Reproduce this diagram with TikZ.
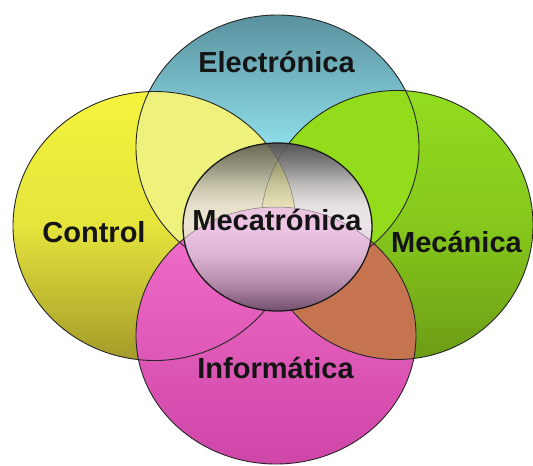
\documentclass[tikz,border=0pt]{standalone}
\usepackage{fontspec}
\newfontfamily\labfont{Liberation Sans}
\definecolor{topA}{HTML}{5A919E}
\definecolor{topB}{HTML}{8EDFEA}
\definecolor{topC}{HTML}{A8F4FA}
\definecolor{leftA}{HTML}{F4F43E}
\definecolor{leftB}{HTML}{E4E43C}
\definecolor{leftC}{HTML}{A49A2A}
\definecolor{lefttop}{HTML}{EEF27C}
\definecolor{rightA}{HTML}{92DC20}
\definecolor{rightB}{HTML}{86C81C}
\definecolor{rightC}{HTML}{6C9C16}
\definecolor{righttop}{HTML}{92DC1C}
\definecolor{botA}{HTML}{F470CA}
\definecolor{botC}{HTML}{CE46A8}
\definecolor{botright}{HTML}{C6734F}
\definecolor{mc0}{HTML}{3E3A40}
\definecolor{mc1}{HTML}{968C94}
\definecolor{mc2}{HTML}{D6CAD2}
\definecolor{mc3}{HTML}{EEE4EC}
\definecolor{mc4}{HTML}{E6E2E2}
\definecolor{mc5}{HTML}{C0BEBC}
\definecolor{mc6}{HTML}{868484}
\definecolor{mc7}{HTML}{555557}
\definecolor{pinktint}{HTML}{F080D8}
\definecolor{yellowtint}{HTML}{E8E040}
\pgfdeclareverticalshading{mecashade}{100bp}{color(0bp)=(mc0); color(25bp)=(mc0); color(32.7bp)=(mc1); color(41.7bp)=(mc2); color(50.6bp)=(mc3); color(56.5bp)=(mc4); color(62.5bp)=(mc5); color(68.5bp)=(mc6); color(75bp)=(mc7); color(100bp)=(mc7)}
\begin{document}
\begin{tikzpicture}[x=1pt,y=-1pt,
  outl/.style={draw=black!85, line width=0.9pt},
  inl/.style={draw=black!75, line width=0.5pt, opacity=0.6},
  lab/.style={font=\labfont\bfseries\fontsize{29}{34}\selectfont, text=black!92, inner sep=0pt, anchor=base}]
\def\Etop{(277.5,147) ellipse [x radius=141.5pt, y radius=132pt]}
\def\Eleft{(154.5,226) ellipse [x radius=141.5pt, y radius=134.5pt]}
\def\Eright{(397,225) ellipse [x radius=136pt, y radius=134.5pt]}
\def\Ebot{(276,335.5) ellipse [x radius=140pt, y radius=128.5pt]}
\def\Ecen{(277.5,227) ellipse [x radius=94.5pt, y radius=84pt]}
\useasboundingbox (0,0) rectangle (533,466);
\fill[white] (0,0) rectangle (533,466);
% big circles
\shade[top color=topA, bottom color=topC, middle color=topB] \Etop;
\shade[top color=leftA, bottom color=leftC, middle color=leftB] \Eleft;
\begin{scope}
  \clip \Eleft;
  \fill[lefttop] \Etop;
\end{scope}
\shade[top color=rightA, bottom color=rightC, middle color=rightB] \Eright;
\begin{scope}
  \clip \Eright;
  \fill[righttop] \Etop;
\end{scope}
\shade[top color=botA, bottom color=botC] \Ebot;
\begin{scope}
  \clip \Ebot;
  \fill[botright] \Eright;
\end{scope}
\draw[outl] \Etop;
\draw[outl] \Eleft;
\draw[outl] \Eright;
\draw[outl] \Ebot;
% centre
\shade[shading=mecashade] \Ecen;
\begin{scope}
  \clip \Ecen;
  \fill[pinktint, opacity=0.3] \Ebot;
  \begin{scope}[even odd rule]
    \clip (-20,-20) rectangle (560,500) \Ebot;
    \begin{scope}
      \clip \Eleft;
      \fill[yellowtint, opacity=0.14] \Ecen;
      \clip \Eright;
      \fill[yellowtint, opacity=0.14] \Ecen;
    \end{scope}
    \draw[inl] \Eleft;
    \draw[inl] \Eright;
  \end{scope}
  \draw[inl] \Ebot;
\end{scope}
\draw[line width=1.3pt, draw=black!90] \Ecen;
% labels
\node[lab] (elec) at (276.5,72) {Electrónica};
\node[lab] (ctrl) at (94,242.5) {Control};
\node[lab] (meca) at (277,230) {Mecatrónica};
\node[lab] (mecn) at (456.5,252) {Mecánica};
\node[lab] (info) at (275.5,378) {Informática};
\end{tikzpicture}
\end{document}
